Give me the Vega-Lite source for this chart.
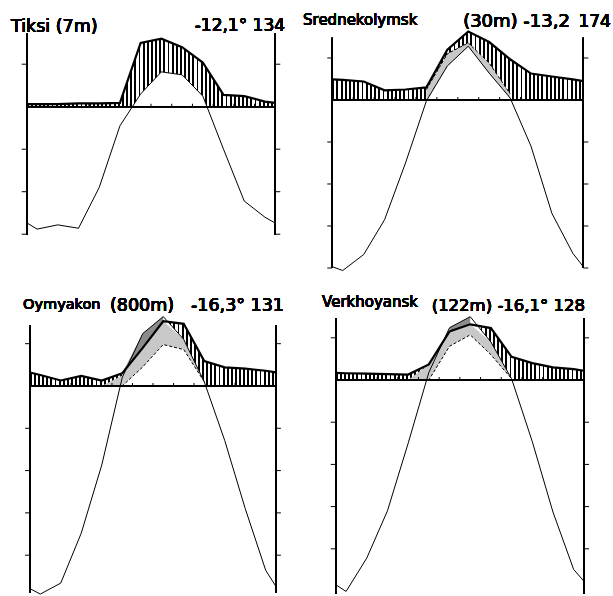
{
"$schema": "https://vega.github.io/schema/vega-lite/v6.json",
"width": 613, "height": 596,
"autosize": {"type": "none"},
"padding": 0,
"background": "#ffffff",
"config": {
 "view": {"stroke": null},
 "font": "DejaVu Sans",
 "text": {"baseline": "alphabetic", "fill": "#000", "fontWeight": "normal"},
 "line": {"color": "#000"},
 "rule": {"color": "#000"},
 "area": {"fill": {"gradient": "linear", "x1": 0, "y1": 0, "x2": 1, "y2": 0, "stops": [
{"offset":0,"color":"#000"},{"offset":0.0075,"color":"#000"},{"offset":0.0075,"color":"#fff"},{"offset":0.0167,"color":"#fff"},
{"offset":0.0167,"color":"#000"},{"offset":0.0242,"color":"#000"},{"offset":0.0242,"color":"#fff"},{"offset":0.0333,"color":"#fff"},
{"offset":0.0333,"color":"#000"},{"offset":0.0408,"color":"#000"},{"offset":0.0408,"color":"#fff"},{"offset":0.05,"color":"#fff"},
{"offset":0.05,"color":"#000"},{"offset":0.0575,"color":"#000"},{"offset":0.0575,"color":"#fff"},{"offset":0.0667,"color":"#fff"},
{"offset":0.0667,"color":"#000"},{"offset":0.0742,"color":"#000"},{"offset":0.0742,"color":"#fff"},{"offset":0.0833,"color":"#fff"},
{"offset":0.0833,"color":"#000"},{"offset":0.0908,"color":"#000"},{"offset":0.0908,"color":"#fff"},{"offset":0.1,"color":"#fff"},
{"offset":0.1,"color":"#000"},{"offset":0.1075,"color":"#000"},{"offset":0.1075,"color":"#fff"},{"offset":0.1167,"color":"#fff"},
{"offset":0.1167,"color":"#000"},{"offset":0.1242,"color":"#000"},{"offset":0.1242,"color":"#fff"},{"offset":0.1333,"color":"#fff"},
{"offset":0.1333,"color":"#000"},{"offset":0.1408,"color":"#000"},{"offset":0.1408,"color":"#fff"},{"offset":0.15,"color":"#fff"},
{"offset":0.15,"color":"#000"},{"offset":0.1575,"color":"#000"},{"offset":0.1575,"color":"#fff"},{"offset":0.1667,"color":"#fff"},
{"offset":0.1667,"color":"#000"},{"offset":0.1742,"color":"#000"},{"offset":0.1742,"color":"#fff"},{"offset":0.1833,"color":"#fff"},
{"offset":0.1833,"color":"#000"},{"offset":0.1908,"color":"#000"},{"offset":0.1908,"color":"#fff"},{"offset":0.2,"color":"#fff"},
{"offset":0.2,"color":"#000"},{"offset":0.2075,"color":"#000"},{"offset":0.2075,"color":"#fff"},{"offset":0.2167,"color":"#fff"},
{"offset":0.2167,"color":"#000"},{"offset":0.2242,"color":"#000"},{"offset":0.2242,"color":"#fff"},{"offset":0.2333,"color":"#fff"},
{"offset":0.2333,"color":"#000"},{"offset":0.2408,"color":"#000"},{"offset":0.2408,"color":"#fff"},{"offset":0.25,"color":"#fff"},
{"offset":0.25,"color":"#000"},{"offset":0.2575,"color":"#000"},{"offset":0.2575,"color":"#fff"},{"offset":0.2667,"color":"#fff"},
{"offset":0.2667,"color":"#000"},{"offset":0.2742,"color":"#000"},{"offset":0.2742,"color":"#fff"},{"offset":0.2833,"color":"#fff"},
{"offset":0.2833,"color":"#000"},{"offset":0.2908,"color":"#000"},{"offset":0.2908,"color":"#fff"},{"offset":0.3,"color":"#fff"},
{"offset":0.3,"color":"#000"},{"offset":0.3075,"color":"#000"},{"offset":0.3075,"color":"#fff"},{"offset":0.3167,"color":"#fff"},
{"offset":0.3167,"color":"#000"},{"offset":0.3242,"color":"#000"},{"offset":0.3242,"color":"#fff"},{"offset":0.3333,"color":"#fff"},
{"offset":0.3333,"color":"#000"},{"offset":0.3408,"color":"#000"},{"offset":0.3408,"color":"#fff"},{"offset":0.35,"color":"#fff"},
{"offset":0.35,"color":"#000"},{"offset":0.3575,"color":"#000"},{"offset":0.3575,"color":"#fff"},{"offset":0.3667,"color":"#fff"},
{"offset":0.3667,"color":"#000"},{"offset":0.3742,"color":"#000"},{"offset":0.3742,"color":"#fff"},{"offset":0.3833,"color":"#fff"},
{"offset":0.3833,"color":"#000"},{"offset":0.3908,"color":"#000"},{"offset":0.3908,"color":"#fff"},{"offset":0.4,"color":"#fff"},
{"offset":0.4,"color":"#000"},{"offset":0.4075,"color":"#000"},{"offset":0.4075,"color":"#fff"},{"offset":0.4167,"color":"#fff"},
{"offset":0.4167,"color":"#000"},{"offset":0.4242,"color":"#000"},{"offset":0.4242,"color":"#fff"},{"offset":0.4333,"color":"#fff"},
{"offset":0.4333,"color":"#000"},{"offset":0.4408,"color":"#000"},{"offset":0.4408,"color":"#fff"},{"offset":0.45,"color":"#fff"},
{"offset":0.45,"color":"#000"},{"offset":0.4575,"color":"#000"},{"offset":0.4575,"color":"#fff"},{"offset":0.4667,"color":"#fff"},
{"offset":0.4667,"color":"#000"},{"offset":0.4742,"color":"#000"},{"offset":0.4742,"color":"#fff"},{"offset":0.4833,"color":"#fff"},
{"offset":0.4833,"color":"#000"},{"offset":0.4908,"color":"#000"},{"offset":0.4908,"color":"#fff"},{"offset":0.5,"color":"#fff"},
{"offset":0.5,"color":"#000"},{"offset":0.5075,"color":"#000"},{"offset":0.5075,"color":"#fff"},{"offset":0.5167,"color":"#fff"},
{"offset":0.5167,"color":"#000"},{"offset":0.5242,"color":"#000"},{"offset":0.5242,"color":"#fff"},{"offset":0.5333,"color":"#fff"},
{"offset":0.5333,"color":"#000"},{"offset":0.5408,"color":"#000"},{"offset":0.5408,"color":"#fff"},{"offset":0.55,"color":"#fff"},
{"offset":0.55,"color":"#000"},{"offset":0.5575,"color":"#000"},{"offset":0.5575,"color":"#fff"},{"offset":0.5667,"color":"#fff"},
{"offset":0.5667,"color":"#000"},{"offset":0.5742,"color":"#000"},{"offset":0.5742,"color":"#fff"},{"offset":0.5833,"color":"#fff"},
{"offset":0.5833,"color":"#000"},{"offset":0.5908,"color":"#000"},{"offset":0.5908,"color":"#fff"},{"offset":0.6,"color":"#fff"},
{"offset":0.6,"color":"#000"},{"offset":0.6075,"color":"#000"},{"offset":0.6075,"color":"#fff"},{"offset":0.6167,"color":"#fff"},
{"offset":0.6167,"color":"#000"},{"offset":0.6242,"color":"#000"},{"offset":0.6242,"color":"#fff"},{"offset":0.6333,"color":"#fff"},
{"offset":0.6333,"color":"#000"},{"offset":0.6408,"color":"#000"},{"offset":0.6408,"color":"#fff"},{"offset":0.65,"color":"#fff"},
{"offset":0.65,"color":"#000"},{"offset":0.6575,"color":"#000"},{"offset":0.6575,"color":"#fff"},{"offset":0.6667,"color":"#fff"},
{"offset":0.6667,"color":"#000"},{"offset":0.6742,"color":"#000"},{"offset":0.6742,"color":"#fff"},{"offset":0.6833,"color":"#fff"},
{"offset":0.6833,"color":"#000"},{"offset":0.6908,"color":"#000"},{"offset":0.6908,"color":"#fff"},{"offset":0.7,"color":"#fff"},
{"offset":0.7,"color":"#000"},{"offset":0.7075,"color":"#000"},{"offset":0.7075,"color":"#fff"},{"offset":0.7167,"color":"#fff"},
{"offset":0.7167,"color":"#000"},{"offset":0.7242,"color":"#000"},{"offset":0.7242,"color":"#fff"},{"offset":0.7333,"color":"#fff"},
{"offset":0.7333,"color":"#000"},{"offset":0.7408,"color":"#000"},{"offset":0.7408,"color":"#fff"},{"offset":0.75,"color":"#fff"},
{"offset":0.75,"color":"#000"},{"offset":0.7575,"color":"#000"},{"offset":0.7575,"color":"#fff"},{"offset":0.7667,"color":"#fff"},
{"offset":0.7667,"color":"#000"},{"offset":0.7742,"color":"#000"},{"offset":0.7742,"color":"#fff"},{"offset":0.7833,"color":"#fff"},
{"offset":0.7833,"color":"#000"},{"offset":0.7908,"color":"#000"},{"offset":0.7908,"color":"#fff"},{"offset":0.8,"color":"#fff"},
{"offset":0.8,"color":"#000"},{"offset":0.8075,"color":"#000"},{"offset":0.8075,"color":"#fff"},{"offset":0.8167,"color":"#fff"},
{"offset":0.8167,"color":"#000"},{"offset":0.8242,"color":"#000"},{"offset":0.8242,"color":"#fff"},{"offset":0.8333,"color":"#fff"},
{"offset":0.8333,"color":"#000"},{"offset":0.8408,"color":"#000"},{"offset":0.8408,"color":"#fff"},{"offset":0.85,"color":"#fff"},
{"offset":0.85,"color":"#000"},{"offset":0.8575,"color":"#000"},{"offset":0.8575,"color":"#fff"},{"offset":0.8667,"color":"#fff"},
{"offset":0.8667,"color":"#000"},{"offset":0.8742,"color":"#000"},{"offset":0.8742,"color":"#fff"},{"offset":0.8833,"color":"#fff"},
{"offset":0.8833,"color":"#000"},{"offset":0.8908,"color":"#000"},{"offset":0.8908,"color":"#fff"},{"offset":0.9,"color":"#fff"},
{"offset":0.9,"color":"#000"},{"offset":0.9075,"color":"#000"},{"offset":0.9075,"color":"#fff"},{"offset":0.9167,"color":"#fff"},
{"offset":0.9167,"color":"#000"},{"offset":0.9242,"color":"#000"},{"offset":0.9242,"color":"#fff"},{"offset":0.9333,"color":"#fff"},
{"offset":0.9333,"color":"#000"},{"offset":0.9408,"color":"#000"},{"offset":0.9408,"color":"#fff"},{"offset":0.95,"color":"#fff"},
{"offset":0.95,"color":"#000"},{"offset":0.9575,"color":"#000"},{"offset":0.9575,"color":"#fff"},{"offset":0.9667,"color":"#fff"},
{"offset":0.9667,"color":"#000"},{"offset":0.9742,"color":"#000"},{"offset":0.9742,"color":"#fff"},{"offset":0.9833,"color":"#fff"},
{"offset":0.9833,"color":"#000"},{"offset":0.9908,"color":"#000"},{"offset":0.9908,"color":"#fff"},{"offset":1,"color":"#fff"}
 ]}}
},
"layer": [
 {
  "data": {"values": [
   {"m":0,"t":-27.3,"p":0.6},{"m":0.5,"t":-28.8,"p":0.6},{"m":1.5,"t":-27.8,"p":0.6},{"m":2.5,"t":-28.6,"p":0.8},{"m":3.5,"t":-19,"p":0.8},{"m":4.5,"t":-4.5,"p":0.9},{"m":5.5,"t":3,"p":15},{"m":6.5,"t":8.2,"p":16},{"m":7.5,"t":7.5,"p":14},{"m":8.5,"t":2.5,"p":10.4},{"m":9.5,"t":-10,"p":2.8},{"m":10.5,"t":-22.2,"p":2.5},{"m":11.5,"t":-26,"p":1.2},{"m":12,"t":-27.4,"p":0.9}
  ]},
  "layer": [
   {"mark": {"type": "area"}, "encoding": {
     "x": {"field": "m", "type": "quantitative", "scale": {"domain": [-1.289, 28.3], "nice": false}, "axis": null},
     "y": {"field": "p", "type": "quantitative", "scale": {"domain": [-115.13, 25.11], "nice": false}, "axis": null},
     "y2": {"datum": 0}}},
   {"mark": {"type": "area", "fill": "#fff"}, "encoding": {"x": {"field": "m", "type": "quantitative"}, "y": {"field": "t", "type": "quantitative"}, "y2": {"datum": 0}}},
   {"mark": {"type": "rule", "strokeWidth": 1}, "encoding": {"x": {"datum": 0}, "x2": {"datum": 12}, "y": {"datum": 0}}},
   {"data": {"values": [{"b":1},{"b":2},{"b":3},{"b":4},{"b":5},{"b":6},{"b":7},{"b":8},{"b":9},{"b":10},{"b":11}]}, "mark": {"type": "rule", "strokeWidth": 1}, "encoding": {"x": {"field": "b", "type": "quantitative"}, "y": {"datum": 0}, "y2": {"datum": 0.7}}},
   {"mark": {"type": "line", "strokeWidth": 2.2}, "encoding": {"x": {"field": "m", "type": "quantitative"}, "y": {"field": "p", "type": "quantitative"}}},
   {"mark": {"type": "line", "strokeWidth": 1}, "encoding": {"x": {"field": "m", "type": "quantitative"}, "y": {"field": "t", "type": "quantitative"}}},
   {"mark": {"type": "rule", "strokeWidth": 1.2}, "encoding": {"x": {"datum": 0}, "y": {"datum": -30.2}, "y2": {"datum": 17.3}}},
   {"mark": {"type": "rule", "strokeWidth": 1.2}, "encoding": {"x": {"datum": 12}, "y": {"datum": -30.2}, "y2": {"datum": 17.3}}},
   {"data": {"values": [{"v":10},{"v":-10},{"v":-20},{"v":-30}]}, "mark": {"type": "rule", "strokeWidth": 1}, "encoding": {"x": {"datum": -0.24}, "x2": {"datum": 0}, "y": {"field": "v", "type": "quantitative"}}},
   {"data": {"values": [{"v":10},{"v":-10},{"v":-20},{"v":-30}]}, "mark": {"type": "rule", "strokeWidth": 1}, "encoding": {"x": {"datum": 12}, "x2": {"datum": 12.24}, "y": {"field": "v", "type": "quantitative"}}},
   {"mark": {"type": "text", "text": "Tiksi (7m)", "align": "left", "fontSize": 17.5}, "encoding": {"x": {"datum": -0.758}, "y": {"datum": 17.69}}},
   {"mark": {"type": "text", "text": "-12,1° 134", "align": "right", "fontSize": 17}, "encoding": {"x": {"datum": 12.47}, "y": {"datum": 17.93}}}
  ]
 },
 {
  "data": {"values": [
   {"m":0,"t":-39.7,"p":4.9},{"m":0.5,"t":-40.6,"p":4.8},{"m":1.5,"t":-36.8,"p":4.4},{"m":2.5,"t":-28.5,"p":2.3},{"m":3.5,"t":-15,"p":2.5},{"m":4.5,"t":-0.2,"p":3,"dl":0,"dh":2.5},{"m":5.5,"t":8.1,"p":12,"dl":8.1,"dh":11},{"m":6.5,"t":12.8,"p":16.3,"dl":12.8,"dh":13.6},{"m":7.5,"t":6.4,"p":13.8,"dl":6.4,"dh":8.8},{"m":8.5,"t":0.5,"p":9.7,"dl":0.5,"dh":1.5},{"m":9.5,"t":-11,"p":6.3},{"m":10.5,"t":-27,"p":5.6},{"m":11.5,"t":-36.5,"p":4.9},{"m":12,"t":-39.7,"p":4.5}
  ]},
  "layer": [
   {"mark": {"type": "area"}, "encoding": {
     "x": {"field": "m", "type": "quantitative", "scale": {"domain": [-15.887, 13.42], "nice": false}, "axis": null},
     "y": {"field": "p", "type": "quantitative", "scale": {"domain": [-118.1, 23.81], "nice": false}, "axis": null},
     "y2": {"datum": 0}}},
   {"mark": {"type": "area", "fill": "#fff"}, "encoding": {"x": {"field": "m", "type": "quantitative"}, "y": {"field": "t", "type": "quantitative"}, "y2": {"datum": 0}}},
   {"mark": {"type": "area", "fill": "#c8c8c8"}, "encoding": {"x": {"field": "m", "type": "quantitative"}, "y": {"field": "dh", "type": "quantitative"}, "y2": {"field": "dl"}}},
   {"mark": {"type": "rule", "strokeWidth": 1}, "encoding": {"x": {"datum": 0}, "x2": {"datum": 12}, "y": {"datum": 0}}},
   {"data": {"values": [{"b":1},{"b":2},{"b":3},{"b":4},{"b":5},{"b":6},{"b":7},{"b":8},{"b":9},{"b":10},{"b":11}]}, "mark": {"type": "rule", "strokeWidth": 1}, "encoding": {"x": {"field": "b", "type": "quantitative"}, "y": {"datum": 0}, "y2": {"datum": 0.7}}},
   {"mark": {"type": "line", "strokeWidth": 1, "strokeDash": [3, 2]}, "encoding": {"x": {"field": "m", "type": "quantitative"}, "y": {"field": "dh", "type": "quantitative"}}},
   {"mark": {"type": "line", "strokeWidth": 2.2}, "encoding": {"x": {"field": "m", "type": "quantitative"}, "y": {"field": "p", "type": "quantitative"}}},
   {"mark": {"type": "line", "strokeWidth": 1}, "encoding": {"x": {"field": "m", "type": "quantitative"}, "y": {"field": "t", "type": "quantitative"}}},
   {"mark": {"type": "rule", "strokeWidth": 1.2}, "encoding": {"x": {"datum": 0}, "y": {"datum": -40}, "y2": {"datum": 14.8}}},
   {"mark": {"type": "rule", "strokeWidth": 1.2}, "encoding": {"x": {"datum": 12}, "y": {"datum": -40}, "y2": {"datum": 14.8}}},
   {"data": {"values": [{"v":10},{"v":-10},{"v":-20},{"v":-30},{"v":-40}]}, "mark": {"type": "rule", "strokeWidth": 1}, "encoding": {"x": {"datum": -0.24}, "x2": {"datum": 0}, "y": {"field": "v", "type": "quantitative"}}},
   {"data": {"values": [{"v":10},{"v":-10},{"v":-20},{"v":-30},{"v":-40}]}, "mark": {"type": "rule", "strokeWidth": 1}, "encoding": {"x": {"datum": 12}, "x2": {"datum": 12.24}, "y": {"field": "v", "type": "quantitative"}}},
   {"mark": {"type": "text", "text": "Srednekolymsk", "align": "left", "fontSize": 15}, "encoding": {"x": {"datum": -1.4}, "y": {"datum": 17.86}}},
   {"mark": {"type": "text", "text": "(30m) -13,2", "align": "right", "fontSize": 18}, "encoding": {"x": {"datum": 11.36}, "y": {"datum": 17.31}}},
   {"mark": {"type": "text", "text": "174", "align": "right", "fontSize": 17}, "encoding": {"x": {"datum": 13.32}, "y": {"datum": 17.45}}}
  ]
 },
 {
  "data": {"values": [
   {"m":0,"t":-47.9,"p":3.2},{"m":0.5,"t":-49.2,"p":2.6},{"m":1.5,"t":-46.6,"p":1.3},{"m":2.5,"t":-34.8,"p":2.4},{"m":3.5,"t":-18.7,"p":1.3,"dl":0,"dh":0},{"m":4.5,"t":2,"p":3,"dl":0,"dh":2.5,"ol":3,"oh":3},{"m":5.5,"t":12.4,"p":9,"dl":4.5,"dh":9,"ol":9,"oh":12.4},{"m":6.5,"t":16.4,"p":15.3,"dl":9.8,"dh":15.3,"ol":15.3,"oh":16.4},{"m":7.5,"t":11,"p":14.7,"dl":8.6,"dh":11},{"m":8.5,"t":1,"p":5.9,"dl":1,"dh":1},{"m":9.5,"t":-12.9,"p":4.4},{"m":10.5,"t":-29,"p":4.1},{"m":11.5,"t":-43.6,"p":3.6},{"m":12,"t":-47.4,"p":3.2}
  ]},
  "layer": [
   {"mark": {"type": "area"}, "encoding": {
     "x": {"field": "m", "type": "quantitative", "scale": {"domain": [-1.463, 28.44], "nice": false}, "axis": null},
     "y": {"field": "p", "type": "quantitative", "scale": {"domain": [-49.65, 91.25], "nice": false}, "axis": null},
     "y2": {"datum": 0}}},
   {"mark": {"type": "area", "fill": "#fff"}, "encoding": {"x": {"field": "m", "type": "quantitative"}, "y": {"field": "t", "type": "quantitative"}, "y2": {"datum": 0}}},
   {"mark": {"type": "area", "fill": "#8c8c8c"}, "encoding": {"x": {"field": "m", "type": "quantitative"}, "y": {"field": "oh", "type": "quantitative"}, "y2": {"field": "ol"}}},
   {"mark": {"type": "area", "fill": "#c8c8c8"}, "encoding": {"x": {"field": "m", "type": "quantitative"}, "y": {"field": "dh", "type": "quantitative"}, "y2": {"field": "dl"}}},
   {"mark": {"type": "rule", "strokeWidth": 1}, "encoding": {"x": {"datum": 0}, "x2": {"datum": 12}, "y": {"datum": 0}}},
   {"data": {"values": [{"b":1},{"b":2},{"b":3},{"b":4},{"b":5},{"b":6},{"b":7},{"b":8},{"b":9},{"b":10},{"b":11}]}, "mark": {"type": "rule", "strokeWidth": 1}, "encoding": {"x": {"field": "b", "type": "quantitative"}, "y": {"datum": 0}, "y2": {"datum": 0.7}}},
   {"mark": {"type": "line", "strokeWidth": 1, "strokeDash": [3, 2]}, "encoding": {"x": {"field": "m", "type": "quantitative"}, "y": {"field": "dl", "type": "quantitative"}}},
   {"mark": {"type": "line", "strokeWidth": 2.2}, "encoding": {"x": {"field": "m", "type": "quantitative"}, "y": {"field": "p", "type": "quantitative"}}},
   {"mark": {"type": "line", "strokeWidth": 1}, "encoding": {"x": {"field": "m", "type": "quantitative"}, "y": {"field": "t", "type": "quantitative"}}},
   {"mark": {"type": "rule", "strokeWidth": 1.2}, "encoding": {"x": {"datum": 0}, "y": {"datum": -48.9}, "y2": {"datum": 14.4}}},
   {"mark": {"type": "rule", "strokeWidth": 1.2}, "encoding": {"x": {"datum": 12}, "y": {"datum": -48.9}, "y2": {"datum": 14.4}}},
   {"data": {"values": [{"v":10},{"v":-10},{"v":-20},{"v":-30},{"v":-40}]}, "mark": {"type": "rule", "strokeWidth": 1}, "encoding": {"x": {"datum": -0.24}, "x2": {"datum": 0}, "y": {"field": "v", "type": "quantitative"}}},
   {"data": {"values": [{"v":10},{"v":-10},{"v":-20},{"v":-30},{"v":-40}]}, "mark": {"type": "rule", "strokeWidth": 1}, "encoding": {"x": {"datum": 12}, "x2": {"datum": 12.24}, "y": {"field": "v", "type": "quantitative"}}},
   {"mark": {"type": "text", "text": "Oymyakon", "align": "left", "fontSize": 14.5}, "encoding": {"x": {"datum": -0.34}, "y": {"datum": 18.09}}},
   {"mark": {"type": "text", "text": "(800m)", "align": "left", "fontSize": 17.5}, "encoding": {"x": {"datum": 3.9}, "y": {"datum": 17.73}}},
   {"mark": {"type": "text", "text": "-16,3° 131", "align": "right", "fontSize": 17.5}, "encoding": {"x": {"datum": 12.39}, "y": {"datum": 17.73}}}
  ]
 },
 {
  "data": {"values": [
   {"m":0,"t":-48.5,"p":1.7},{"m":0.5,"t":-50.1,"p":1.6},{"m":1.5,"t":-42.2,"p":1.5},{"m":2.5,"t":-31,"p":1.4},{"m":3.5,"t":-15,"p":1.3,"dl":0,"dh":0},{"m":4.5,"t":1.8,"p":3.7,"dl":0,"dh":3.7},{"m":5.5,"t":12.4,"p":11.5,"dl":8,"dh":11.5,"ol":11.5,"oh":12.4},{"m":6.5,"t":15,"p":13.2,"dl":10.7,"dh":13.2,"ol":13.2,"oh":15},{"m":7.5,"t":9,"p":12.3,"dl":6,"dh":9},{"m":8.5,"t":0.3,"p":5.5,"dl":0.3,"dh":0.3},{"m":9.5,"t":-14.6,"p":4},{"m":10.5,"t":-31.3,"p":3},{"m":11.5,"t":-44.9,"p":2.6},{"m":12,"t":-47.7,"p":2.2}
  ]},
  "layer": [
   {"mark": {"type": "area"}, "encoding": {
     "x": {"field": "m", "type": "quantitative", "scale": {"domain": [-16.224, 13.4], "nice": false}, "axis": null},
     "y": {"field": "p", "type": "quantitative", "scale": {"domain": [-51.18, 90.05], "nice": false}, "axis": null},
     "y2": {"datum": 0}}},
   {"mark": {"type": "area", "fill": "#fff"}, "encoding": {"x": {"field": "m", "type": "quantitative"}, "y": {"field": "t", "type": "quantitative"}, "y2": {"datum": 0}}},
   {"mark": {"type": "area", "fill": "#8c8c8c"}, "encoding": {"x": {"field": "m", "type": "quantitative"}, "y": {"field": "oh", "type": "quantitative"}, "y2": {"field": "ol"}}},
   {"mark": {"type": "area", "fill": "#c8c8c8"}, "encoding": {"x": {"field": "m", "type": "quantitative"}, "y": {"field": "dh", "type": "quantitative"}, "y2": {"field": "dl"}}},
   {"mark": {"type": "rule", "strokeWidth": 1}, "encoding": {"x": {"datum": 0}, "x2": {"datum": 12}, "y": {"datum": 0}}},
   {"data": {"values": [{"b":1},{"b":2},{"b":3},{"b":4},{"b":5},{"b":6},{"b":7},{"b":8},{"b":9},{"b":10},{"b":11}]}, "mark": {"type": "rule", "strokeWidth": 1}, "encoding": {"x": {"field": "b", "type": "quantitative"}, "y": {"datum": 0}, "y2": {"datum": 0.7}}},
   {"mark": {"type": "line", "strokeWidth": 1, "strokeDash": [3, 2]}, "encoding": {"x": {"field": "m", "type": "quantitative"}, "y": {"field": "dl", "type": "quantitative"}}},
   {"mark": {"type": "line", "strokeWidth": 2.2}, "encoding": {"x": {"field": "m", "type": "quantitative"}, "y": {"field": "p", "type": "quantitative"}}},
   {"mark": {"type": "line", "strokeWidth": 1}, "encoding": {"x": {"field": "m", "type": "quantitative"}, "y": {"field": "t", "type": "quantitative"}}},
   {"mark": {"type": "rule", "strokeWidth": 1.2}, "encoding": {"x": {"datum": 0}, "y": {"datum": -50.7}, "y2": {"datum": 14.7}}},
   {"mark": {"type": "rule", "strokeWidth": 1.2}, "encoding": {"x": {"datum": 12}, "y": {"datum": -50.7}, "y2": {"datum": 14.7}}},
   {"data": {"values": [{"v":10},{"v":-10},{"v":-20},{"v":-30},{"v":-40}]}, "mark": {"type": "rule", "strokeWidth": 1}, "encoding": {"x": {"datum": -0.24}, "x2": {"datum": 0}, "y": {"field": "v", "type": "quantitative"}}},
   {"data": {"values": [{"v":10},{"v":-10},{"v":-20},{"v":-30},{"v":-40}]}, "mark": {"type": "rule", "strokeWidth": 1}, "encoding": {"x": {"datum": 12}, "x2": {"datum": 12.24}, "y": {"field": "v", "type": "quantitative"}}},
   {"mark": {"type": "text", "text": "Verkhoyansk", "align": "left", "fontSize": 15}, "encoding": {"x": {"datum": -0.66}, "y": {"datum": 17.42}}},
   {"mark": {"type": "text", "text": "(122m) -16,1° 128", "align": "right", "fontSize": 16.5}, "encoding": {"x": {"datum": 12.05}, "y": {"datum": 16.35}}}
  ]
 }
],
"resolve": {"scale": {"x": "independent", "y": "independent"}}
}
